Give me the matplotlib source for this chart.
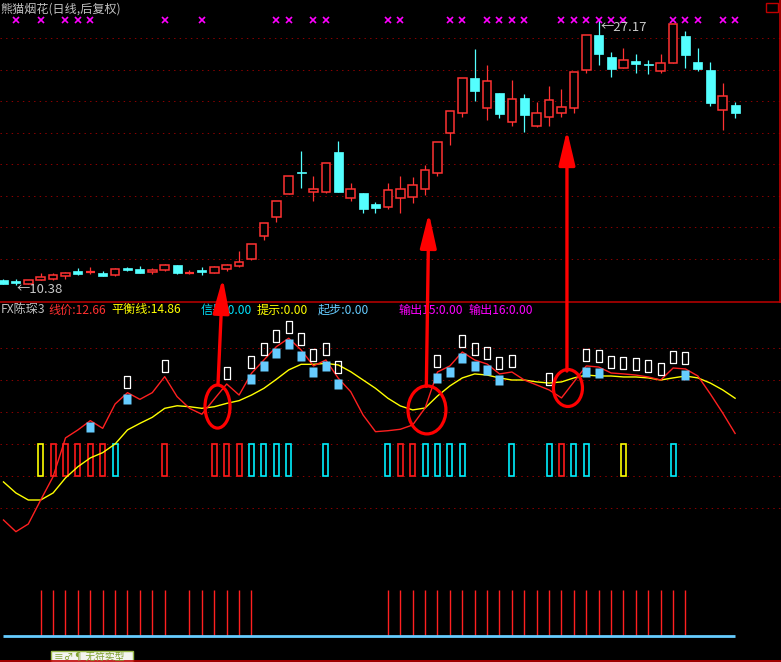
import numpy as np
import matplotlib
matplotlib.use('Agg')
import matplotlib.pyplot as plt
from matplotlib.patches import Rectangle, Ellipse, ConnectionPatch
from matplotlib.path import Path
from matplotlib.lines import Line2D
import matplotlib.transforms as mtransforms

plt.rcParams['font.family'] = ['Noto Sans CJK SC', 'DejaVu Sans']

# ---------------- data ----------------
opens = [10.68, 10.63, 10.44, 10.70, 10.76, 10.95, 11.24, 11.15, 11.14, 11.01,
         11.45, 11.37, 11.18, 11.33, 11.62, 11.12, 11.32, 11.14, 11.39, 11.58,
         12.02, 13.48, 14.68, 16.14, 17.52, 16.27, 16.27, 18.78, 15.85, 16.16,
         15.49, 15.32, 15.85, 15.95, 16.46, 17.47, 19.96, 21.23, 23.47, 21.59,
         22.52, 20.66, 22.20, 20.45, 20.98, 21.23, 21.59, 23.99, 26.17, 24.80,
         24.12, 24.54, 24.35, 23.93, 24.44, 26.13, 24.46, 23.95, 21.42, 21.74]
closes = [10.45, 10.50, 10.65, 10.86, 10.97, 11.12, 11.05, 11.17, 10.93, 11.35,
          11.31, 11.14, 11.30, 11.62, 11.14, 11.15, 11.20, 11.50, 11.62, 11.79,
          12.93, 14.26, 15.68, 17.26, 17.43, 16.42, 18.06, 16.27, 16.42, 15.19,
          15.25, 16.35, 16.42, 16.67, 17.62, 19.39, 21.36, 23.45, 22.66, 23.26,
          21.21, 22.12, 21.14, 21.23, 22.05, 21.61, 23.83, 26.17, 25.01, 24.06,
          24.59, 24.37, 24.27, 24.40, 26.87, 24.94, 24.06, 21.90, 22.31, 21.27]
highs = [10.72, 10.74, 10.67, 11.10, 11.10, 11.18, 11.43, 11.50, 11.22, 11.43,
         11.52, 11.56, 11.43, 11.67, 11.65, 11.31, 11.50, 11.56, 11.69, 12.51,
         12.93, 14.26, 15.68, 17.26, 18.85, 17.26, 18.06, 19.48, 16.80, 16.16,
         15.61, 16.80, 17.26, 17.20, 17.96, 19.39, 21.36, 23.45, 25.30, 24.29,
         22.52, 23.34, 22.43, 21.97, 22.98, 22.77, 23.83, 26.17, 27.17, 25.11,
         25.37, 24.99, 24.61, 24.99, 26.87, 26.44, 25.35, 24.46, 23.15, 21.93]
lows = [10.42, 10.38, 10.40, 10.70, 10.70, 10.76, 11.00, 11.05, 10.90, 10.95,
        11.24, 11.12, 11.07, 11.27, 11.07, 11.05, 11.02, 11.14, 11.27, 11.48,
        11.96, 13.23, 14.37, 16.14, 16.52, 15.70, 16.16, 16.27, 15.70, 14.94,
        14.94, 15.19, 14.94, 15.57, 16.08, 17.28, 19.24, 21.02, 22.03, 20.81,
        20.95, 20.45, 20.07, 20.35, 20.45, 21.02, 21.27, 23.76, 24.31, 23.53,
        24.12, 23.80, 23.74, 23.76, 24.44, 24.12, 23.91, 21.69, 20.17, 20.95]

# 线价 (red) and 平衡线 (yellow)
line_price = [7.25, 6.52, 7.00, 8.50, 9.96, 12.38, 12.88, 13.46, 12.98, 14.50,
              15.21, 14.79, 15.21, 16.21, 14.96, 14.23, 13.86, 14.81, 15.75, 15.06,
              16.42, 17.25, 18.08, 18.61, 17.88, 16.88, 17.25, 16.11, 15.27, 13.81,
              12.77, 12.83, 12.92, 13.19, 14.25, 16.50, 16.88, 17.75, 17.25, 17.00,
              16.38, 16.50, 16.00, 15.69, 15.38, 14.88, 15.88, 16.88, 16.81, 16.44,
              16.38, 16.31, 16.19, 16.00, 16.75, 16.69, 16.25, 15.13, 13.94, 12.66]
balance = [9.63, 8.94, 8.50, 8.50, 8.94, 9.88, 10.58, 11.13, 11.46, 12.00,
           12.88, 13.29, 13.67, 14.23, 14.39, 14.33, 14.23, 14.33, 14.54, 14.71,
           15.06, 15.48, 16.04, 16.63, 16.98, 16.98, 17.04, 16.94, 16.52, 16.00,
           15.48, 14.86, 14.38, 14.13, 14.25, 15.00, 15.63, 16.13, 16.38, 16.31,
           16.13, 16.00, 16.00, 15.88, 15.81, 15.88, 16.13, 16.31, 16.25, 16.25,
           16.19, 16.19, 16.13, 16.00, 16.13, 16.25, 16.13, 15.81, 15.38, 14.86]

cross_idx = [1, 3, 5, 6, 7, 13, 16, 22, 23, 25, 26, 31, 32, 36, 37, 39, 40, 41, 42,
             45, 46, 47, 48, 49, 50, 54, 55, 56, 58, 59]
box_idx = [10, 13, 18, 20, 21, 22, 23, 24, 25, 26, 27, 35, 37, 38, 39, 40, 41, 44,
           47, 48, 49, 50, 51, 52, 53, 54, 55]
blue_idx = [7, 10, 20, 21, 22, 23, 24, 25, 26, 27, 35, 36, 37, 38, 39, 40, 47, 48, 55]

bar_yellow = [3, 50]
bar_red = [4, 5, 6, 7, 8, 13, 17, 18, 19, 32, 33, 45]
bar_cyan = [9, 20, 21, 22, 23, 26, 31, 34, 35, 36, 37, 41, 44, 46, 47, 54]
BAR_LOW, BAR_HIGH = 10, 12

stick_idx = list(range(3, 14)) + list(range(15, 21)) + list(range(31, 56))
STICK_VALUE = 2.9

price_grid = [12, 14, 16, 18, 20, 22, 24, 26]
ind_grid = [8, 10, 12, 14, 16, 18]

header = [("FX陈琛3", "#C0C0C0"), ("线价:12.66", "#FF3030"), ("平衡线:14.86", "#FFFF00"),
          ("信号:0.00", "#00E5FF"), ("提示:0.00", "#FFFF00"), ("起步:0.00", "#66CCFF"),
          ("输出15:0.00", "#FF00FF"), ("输出16:0.00", "#FF00FF")]
header_x = [1, 48, 111, 201, 257, 318, 399, 469]

# ---------------- layout ----------------
W, H = 781, 662
fig = plt.figure(figsize=(W / 100, H / 100), dpi=100, facecolor='black')


def fx(px):
    return px / W


def fy(py):
    return 1 - py / H


SEP = 302
ax1 = fig.add_axes([0, fy(SEP), 1, SEP / H])
ax2 = fig.add_axes([0, 0, 1, fy(SEP)])
XMIN = -3.5 / 12.4
XMAX = XMIN + W / 12.4
for ax in (ax1, ax2):
    ax.set_facecolor('black')
    ax.set_xlim(XMIN, XMAX)
    ax.axis('off')
ax1.set_ylim(9.281, 28.407)
ax2.set_ylim(-1.625, 20.875)

RED = '#FF3232'
CYAN = '#54FFFF'
GRID = '#8B0000'
dot = (0, (1.4, 4.2))

for v in price_grid:
    ax1.axhline(v, color=GRID, lw=0.72, ls=dot, zorder=0)
for v in ind_grid:
    ax2.axhline(v, color=GRID, lw=0.72, ls=dot, zorder=0)

# ---------------- candles ----------------
n = len(opens)
bw = 0.68
for i in range(n):
    o, c, h, l = opens[i], closes[i], highs[i], lows[i]
    up = c >= o
    col = RED if up else CYAN
    ax1.vlines(i, l, h, color=col, lw=0.9, zorder=2)
    lo, hi = min(o, c), max(o, c)
    if hi - lo < 0.06:
        ax1.hlines((o + c) / 2, i - bw / 2, i + bw / 2, color=col, lw=1.6, zorder=3)
    elif up:
        ax1.add_patch(Rectangle((i - bw / 2, lo), bw, hi - lo, facecolor='black',
                                edgecolor=col, lw=1.1, zorder=3))
    else:
        ax1.add_patch(Rectangle((i - bw / 2 - 0.02, lo), bw + 0.04, hi - lo, facecolor=col,
                                edgecolor=col, lw=0.5, zorder=3))

btrans = mtransforms.blended_transform_factory(ax1.transData, ax1.transAxes)
ax1.plot(cross_idx, [1 - 20 / SEP] * len(cross_idx), ls='none', marker='x',
         color='#FF00FF', ms=3.8, mew=1.2, transform=btrans)

imax = int(np.argmax(highs))
imin = int(np.argmin(lows))
ax1.annotate(f"←{highs[imax]:.2f}", (imax, highs[imax]), xytext=(2, -7.5),
             textcoords='offset pixels', color='#C8C8C8', fontsize=9.5,
             ha='left', va='center')
ax1.annotate(f"←{lows[imin]:.2f}", (imin, lows[imin]), xytext=(1, -4.5),
             textcoords='offset pixels', color='#C8C8C8', fontsize=9.5,
             ha='left', va='center')

# ---------------- indicator ----------------
x = np.arange(n)
ax2.plot(x, balance, color='#FFFF00', lw=1.0, zorder=3)
ax2.plot(x, line_price, color='#FF2020', lw=1.0, zorder=4)

for idxs, col in ((bar_yellow, '#FFFF00'), (bar_red, '#FF1A1A'), (bar_cyan, '#00F0FF')):
    ax2.bar(idxs, [BAR_HIGH - BAR_LOW] * len(idxs), bottom=BAR_LOW, width=0.40,
            fill=False, edgecolor=col, lw=1.2, zorder=2)

ax2.vlines(stick_idx, 0, STICK_VALUE, color='#FF2020', lw=1.0, zorder=2)
ax2.plot([0, n - 1], [0, 0], color='#66CCFF', lw=2.0, zorder=3, solid_capstyle='butt')

box_marker = Path([(-0.27, -0.5), (0.27, -0.5), (0.27, 0.5), (-0.27, 0.5), (-0.27, -0.5)],
                  [Path.MOVETO, Path.LINETO, Path.LINETO, Path.LINETO, Path.CLOSEPOLY])
sq_marker = Path([(-0.39, -0.5), (0.39, -0.5), (0.39, 0.5), (-0.39, 0.5), (-0.39, -0.5)],
                 [Path.MOVETO, Path.LINETO, Path.LINETO, Path.LINETO, Path.CLOSEPOLY])
t_up = mtransforms.offset_copy(ax2.transData, fig=fig, x=0, y=11, units='dots')
t_dn = mtransforms.offset_copy(ax2.transData, fig=fig, x=0, y=-6, units='dots')
ax2.plot(box_idx, [line_price[i] for i in box_idx], ls='none', marker=box_marker,
         ms=8.5, mfc='none', mec='white', mew=0.9, transform=t_up, zorder=6)
ax2.plot(blue_idx, [line_price[i] for i in blue_idx], ls='none', marker=sq_marker,
         ms=6.6, mfc='#66CCFF', mec='none', transform=t_dn, zorder=6)

# red circles and arrows
circles = [((17.26, 14.34), 2.02, 2.69), ((34.15, 14.13), 3.06, 3.0), ((45.52, 15.5), 2.34, 2.31)]
for (cxy, w, h) in circles:
    ax2.add_patch(Ellipse(cxy, w, h, fill=False, edgecolor='#FF0000', lw=2.3, zorder=8))
arrows = [((17.3, 15.75), (17.68, 10.80)), ((34.1, 15.6), (34.3, 14.92)),
          ((45.44, 16.56), (45.44, 20.17))]
for tail, tip in arrows:
    con = ConnectionPatch(xyA=tail, coordsA=ax2.transData, xyB=tip, coordsB=ax1.transData,
                          arrowstyle='-|>,head_length=1.4,head_width=0.33', mutation_scale=15,
                          color='#FF0000', lw=2.4, shrinkA=0, shrinkB=0, zorder=10)
    fig.add_artist(con)

# ---------------- decorations / text ----------------
fig.add_artist(Line2D([0, 1], [fy(SEP), fy(SEP)], color='#B00000', lw=1.2))
fig.add_artist(Line2D([fx(779.5), fx(779.5)], [1, fy(SEP)], color='#C00000', lw=1.2))
fig.add_artist(Line2D([0, 1], [fy(661), fy(661)], color='#C00000', lw=1.2))
fig.add_artist(Rectangle((fx(766), fy(12)), 12 / W, 9 / H, fill=False,
                         edgecolor='#C00000', lw=1.0))

fig.text(fx(0), fy(9), "熊猫烟花(日线,后复权)", color='#C0C0C0', fontsize=8.7,
         ha='left', va='center')
for (txt, col), px in zip(header, header_x):
    fig.text(fx(px), fy(310), txt, color=col, fontsize=8.7, ha='left', va='center')

fig.add_artist(Rectangle((fx(51), fy(663)), 82 / W, 12 / H, facecolor='#F4F4F0',
                         edgecolor='#9AB84A', lw=1.0))
fig.text(fx(54), fy(656.5), "≡♂¶ 无符实型", color='#7FA030', fontsize=7.0,
         ha='left', va='center')

fig.savefig('out.png', dpi=100, facecolor='black')
